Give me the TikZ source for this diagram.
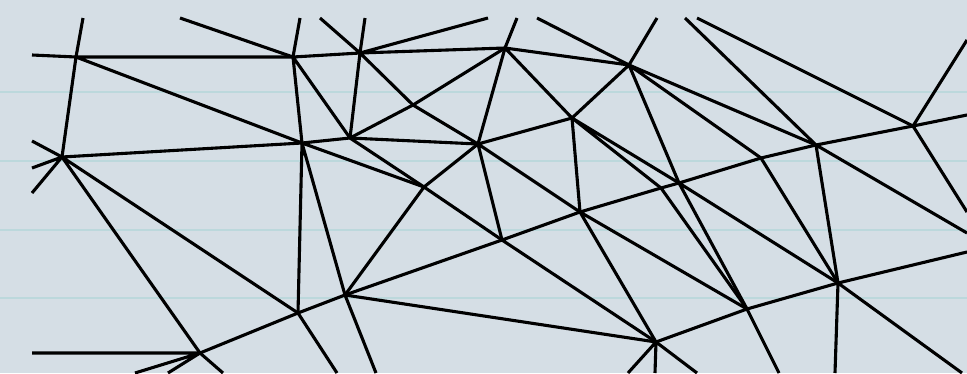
\documentclass[tikz,border=0pt]{standalone}
\definecolor{bgcol}{HTML}{D5DEE5}
\definecolor{guidecol}{HTML}{BCD8DC}
\begin{document}
\begin{tikzpicture}[x=1pt,y=-1pt,
  mesh/.style={line width=3.1pt, line join=round, black},
  guide/.style={line width=1.6pt, guidecol}]
\fill[bgcol] (0,0) rectangle (967,373);
\useasboundingbox (0,0) rectangle (967,373);
\foreach \yy in {92,161,230,298} \draw[guide] (0,\yy) -- (967,\yy);
% vertices
\coordinate (A) at (76,57);
\coordinate (B) at (62,157);
\coordinate (C) at (293,57);
\coordinate (D) at (302,143);
\coordinate (F) at (360,53);
\coordinate (G) at (350,138);
\coordinate (H) at (413,105);
\coordinate (I) at (505,48);
\coordinate (J) at (478,144);
\coordinate (K) at (424,187);
\coordinate (L) at (572,118);
\coordinate (M) at (629,65);
\coordinate (N) at (502,240);
\coordinate (O) at (580,212);
\coordinate (Sa) at (661,188);
\coordinate (Sb) at (679,183);
\coordinate (R) at (761,158);
\coordinate (P) at (816,145);
\coordinate (Q) at (913,126);
\coordinate (E) at (200,353);
\coordinate (T) at (298,313);
\coordinate (U) at (345,295);
\coordinate (V) at (656,342);
\coordinate (W) at (747,309);
\coordinate (X) at (838,283);
% free ends
\coordinate (a1) at (83,18);
\coordinate (a2) at (32,55);
\coordinate (b1) at (32,141);
\coordinate (b2) at (32,168);
\coordinate (b3) at (32,193);
\coordinate (c1) at (300,18);
\coordinate (c2) at (180,18);
\coordinate (f1) at (320,18);
\coordinate (f2) at (365,18);
\coordinate (f3) at (488,18);
\coordinate (i1) at (517,18);
\coordinate (m0) at (537,18);
\coordinate (m1) at (657,18);
\coordinate (p0) at (685,18);
\coordinate (q0) at (697,18);
\coordinate (q1) at (967,40);
\coordinate (q2) at (967,115);
\coordinate (q3) at (967,212);
\coordinate (p1) at (967,233);
\coordinate (x1) at (967,252);
\coordinate (x2) at (962,373);
\coordinate (x3) at (835,373);
\coordinate (w1) at (779,373);
\coordinate (v1) at (697,373);
\coordinate (v2) at (655,373);
\coordinate (v3) at (628,373);
\coordinate (u1) at (376,373);
\coordinate (t1) at (337,373);
\coordinate (e1) at (32,353);
\coordinate (e2) at (135,373);
\coordinate (e3) at (168,373);
\coordinate (e4) at (223,373);
% edges
\draw[mesh] (A)--(a1) (A)--(a2) (A)--(C) (A)--(B) (A)--(D);
\draw[mesh] (B)--(b1) (B)--(b2) (B)--(b3) (B)--(D) (B)--(E) (B)--(T);
\draw[mesh] (C)--(c1) (C)--(c2) (C)--(F) (C)--(D) (C)--(G);
\draw[mesh] (D)--(G) (D)--(K) (D)--(T) (D)--(U);
\draw[mesh] (F)--(f1) (F)--(f2) (F)--(f3) (F)--(I) (F)--(G) (F)--(H);
\draw[mesh] (H)--(I) (H)--(G) (H)--(J);
\draw[mesh] (G)--(J) (G)--(K);
\draw[mesh] (I)--(i1) (I)--(M) (I)--(L) (I)--(J);
\draw[mesh] (J)--(L) (J)--(K) (J)--(N) (J)--(O);
\draw[mesh] (M)--(m0) (M)--(m1) (M)--(L) (M)--(P) (M)--(R) (M)--(Sb);
\draw[mesh] (L)--(O) (L)--(Sa) (L)--(Sb);
\draw[mesh] (K)--(N) (K)--(U);
\draw[mesh] (N)--(U) (N)--(O) (N)--(V);
\draw[mesh] (O)--(Sa) (O)--(W) (O)--(V);
\draw[mesh] (Sa)--(Sb) (Sa)--(W);
\draw[mesh] (Sb)--(R) (Sb)--(W) (Sb)--(X);
\draw[mesh] (R)--(P) (R)--(X);
\draw[mesh] (P)--(p0) (P)--(Q) (P)--(X) (P)--(p1);
\draw[mesh] (Q)--(q0) (Q)--(q1) (Q)--(q2) (Q)--(q3);
\draw[mesh] (X)--(W) (X)--(x1) (X)--(x2) (X)--(x3);
\draw[mesh] (W)--(V) (W)--(w1);
\draw[mesh] (V)--(U) (V)--(v1) (V)--(v2) (V)--(v3);
\draw[mesh] (U)--(T) (U)--(u1);
\draw[mesh] (T)--(E) (T)--(t1);
\draw[mesh] (E)--(e1) (E)--(e2) (E)--(e3) (E)--(e4);
\end{tikzpicture}
\end{document}
